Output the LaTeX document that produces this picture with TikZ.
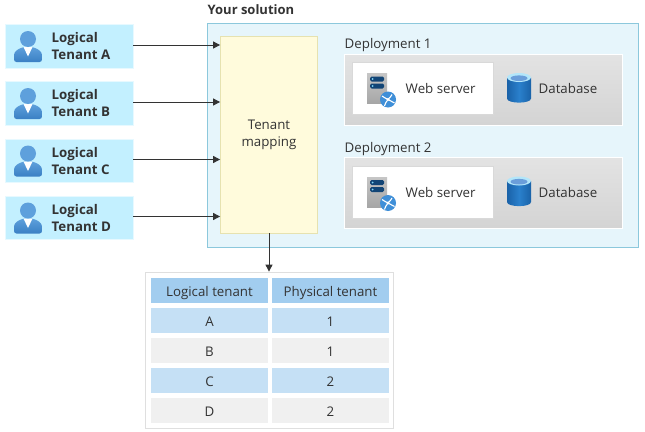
\documentclass[tikz,border=0pt]{standalone}
\usepackage{fontspec}
\setmainfont{Open Sans}
\usetikzlibrary{arrows.meta,calc}
\definecolor{ink}{HTML}{333333}
\definecolor{tenantfill}{HTML}{C3F0FF}
\definecolor{solfill}{HTML}{E6F5FB}
\definecolor{solline}{HTML}{8CC8DC}
\definecolor{mapfill}{HTML}{FFFBDC}
\definecolor{mapline}{HTML}{E6E2B0}
\definecolor{headfill}{HTML}{A2CDEF}
\definecolor{rowblue}{HTML}{C5E0F5}
\definecolor{rowgrey}{HTML}{F0F0F0}
\definecolor{userlt}{HTML}{5EA0DC}
\definecolor{userdk}{HTML}{3A80C4}
\definecolor{dbdk}{HTML}{1A62A8}
\definecolor{dbmid}{HTML}{2A80CC}
\definecolor{globe}{HTML}{3F8FD8}
\tikzset{
  x=1pt,y=-1pt,
  every node/.style={font=\fontsize{13.3}{17}\selectfont,text=ink,inner sep=0pt,align=center},
  tenantbox/.style={fill=tenantfill,draw=white!60!tenantfill,line width=.8pt,minimum width=128,minimum height=43.5},
  tenanttext/.style={font=\fontsize{13.3}{17}\selectfont\bfseries,align=left,anchor=west},
  solbox/.style={fill=solfill,draw=solline,line width=.8pt,minimum width=431,minimum height=224},
  mapbox/.style={fill=mapfill,draw=mapline,line width=.8pt,minimum width=97,minimum height=197},
  panel/.style={top color=gray!22,bottom color=gray!34,draw=white,line width=.8pt,minimum width=278,minimum height=71},
  whitebox/.style={fill=white,draw=gray!30,line width=.6pt,minimum width=141,minimum height=52},
  tableframe/.style={fill=white,draw=gray!25,line width=.8pt,minimum width=248,minimum height=156},
  cell/.style={minimum width=117,minimum height=25,text height=14,text depth=1.6},
  headcell/.style={cell,fill=headfill},
  bluecell/.style={cell,fill=rowblue},
  greycell/.style={cell,fill=rowgrey},
  link/.style={draw=ink,line width=.9pt,-{Triangle[length=7pt,width=7pt]}},
  user/.pic={
    \shade[top color=userlt,bottom color=userdk,rounded corners=2.5pt]
      (-14,15.5) -- (-14,11) .. controls (-14,4) and (-8,2) .. (-5,0.5) -- (5,0.5) .. controls (8,2) and (14,4) .. (14,11) -- (14,15.5) -- cycle;
    \fill[white] (-4.5,0.5) -- (4.5,0.5) -- (0,10) -- cycle;
    \fill[userlt] (0,-7.5) circle (8);
  },
  server/.pic={
    \shade[top color=gray!45,bottom color=gray!70] (-10,-16.5) rectangle (10,13.5);
    \fill[dbdk!70!black,rounded corners=1.5pt] (-7,-13.5) rectangle (7,-8.5);
    \fill[dbdk!70!black,rounded corners=1.5pt] (-7,-6.5) rectangle (7,-1.5);
    \fill[cyan!50] (-4.5,-11) circle (1);
    \fill[cyan!50] (-4.5,-4) circle (1);
    \fill[globe] (11,9.5) circle (8);
    \draw[white,line width=1.1pt] (5,6) .. controls (8,8) and (10,9) .. (11,9.5) .. controls (13,8) and (14,6) .. (15,4.5) (11,9.5) .. controls (9,12) and (8,14) .. (7.5,16) (11,9.5) -- (17.5,13);
    \fill[white] (11,9.5) circle (1.7);
  },
  database/.pic={
    \shade[left color=dbdk,right color=dbdk,middle color=dbmid]
      (-12,-11) -- (-12,10) .. controls (-12,15.5) and (12,15.5) .. (12,10) -- (12,-11) -- cycle;
    \fill[white!70!cyan] (0,-11) ellipse (12 and 4.5);
    \fill[cyan!55!blue!60!white] (0,-10.3) ellipse (8.5 and 2.8);
  }
}
\begin{document}
\begin{tikzpicture}
\useasboundingbox (0,0) rectangle (645,431);
% tenants
\foreach \n/\y/\l in {a/46.5/A,b/103.5/B,c/161/C,d/218/D}{
  \node[tenantbox] (tenant\n) at (69,\y) {};
  \pic at (28,\y) {user};
  \node[tenanttext] (tenantlabel\n) at (51.5,\y) {Logical\\Tenant \l};
}
% solution
\node[font=\fontsize{13}{16}\selectfont\bfseries,anchor=west] (soltitle) at (207.5,9.5) {Your solution};
\node[solbox] (solution) at (423,135) {};
\node[mapbox] (map) at (269,134.5) {};
\node[align=center] (maplabel) at (269,134.5) {Tenant\\mapping};
% deployments
\foreach \n/\y/\l in {one/89.5/1,two/193/2}{
  \node[anchor=west] (title\n) at (344.5,\y-44) {Deployment \l};
  \node[panel] (panel\n) at (483.5,\y) {};
  \node[whitebox] (web\n) at (423,\y-1) {};
  \pic at (377,\y+0.5) {server};
  \node[anchor=west] (weblabel\n) at (405.5,\y-0.5) {Web server};
  \pic at (519,\y-1) {database};
  \node[anchor=west] (dblabel\n) at (538.5,\y-0.5) {Database};
}
% table
\node[tableframe] (tableframe) at (269.5,350) {};
\node[headcell] (h1) at (209.5,290.5) {Logical tenant};
\node[headcell] (h2) at (330.5,290.5) {Physical tenant};
\foreach \r/\y/\p/\q/\st in {a/320.5/A/1/bluecell,b/350.5/B/1/greycell,c/380.5/C/2/bluecell,d/410.5/D/2/greycell}{
  \node[\st] (row\r1) at (209.5,\y) {\p};
  \node[\st] (row\r2) at (330.5,\y) {\q};
}
% connectors
\foreach \n in {a,b,c,d}{
  \draw[link] (tenant\n.east) ++(0,-1.5) coordinate (s\n) -- (s\n -| map.west);
}
\draw[link] (map.south) -- (tableframe.north -| map.south);
\end{tikzpicture}
\end{document}
